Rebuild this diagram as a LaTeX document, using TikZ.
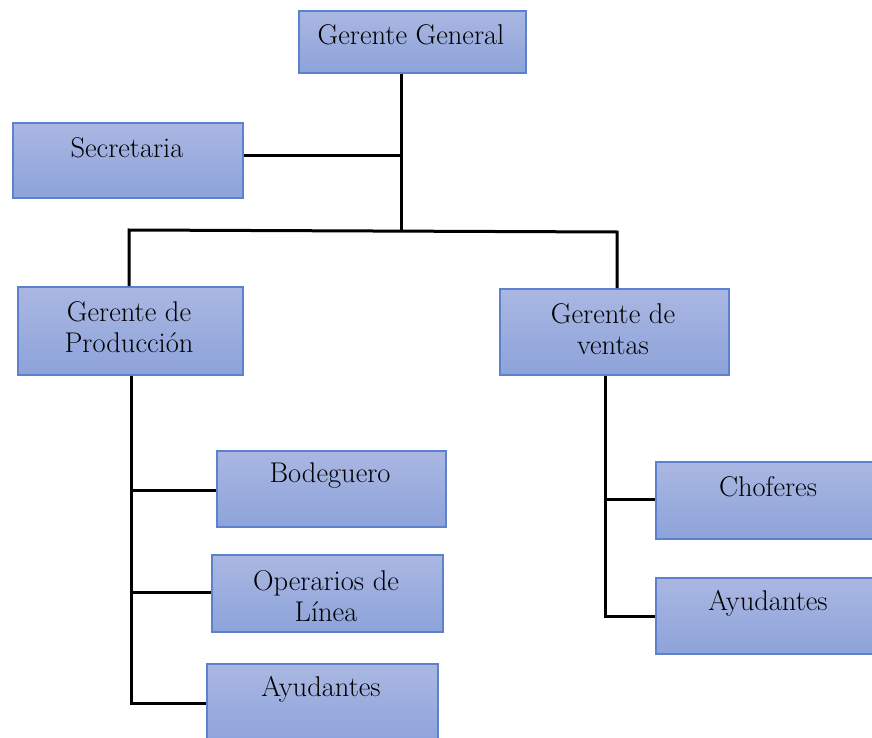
\documentclass[tikz,border=0pt]{standalone}
\definecolor{boxline}{RGB}{92,130,206}
\definecolor{boxtop}{RGB}{170,183,226}
\definecolor{boxbot}{RGB}{141,163,218}
\tikzset{
  box/.style={draw=boxline, line width=1.6pt, top color=boxtop, bottom color=boxbot, rectangle, inner sep=0pt},
  txt/.style={font=\rmfamily\fontsize{28.5}{31}\selectfont, align=center, inner sep=0pt, text=black},
  conn/.style={draw=black, line width=3pt},
}
\newcommand{\orgbox}[5]{% name, x1, y1, x2, y2
  \node[box, minimum width={#4-#2}, minimum height={#5-#3}, anchor=north west] (#1) at (#2,#3) {};}
\begin{document}
\begin{tikzpicture}[x=1pt,y=-1pt]
\useasboundingbox (0,0) rectangle (872,738);
% boxes
\orgbox{gg}{298}{10}{525}{72}
\orgbox{sec}{12}{122}{242}{197}
\orgbox{prod}{17}{286}{242}{374}
\orgbox{ven}{499}{288}{728}{374}
\orgbox{bod}{216}{450}{445}{526}
\orgbox{ope}{211}{554}{442}{631}
\orgbox{ayu1}{206}{663}{437}{745}
\orgbox{cho}{655}{461}{885}{538}
\orgbox{ayu2}{655}{577}{885}{653}
% texts
\node[txt] (tgg) at (411,35) {Gerente General};
\node[txt] (tsec) at (127,148) {Secretaria};
\node[txt] (tprod) at (129,327) {Gerente de\\Producción};
\node[txt] (tven) at (613,329) {Gerente de\\ventas};
\node[txt] (tbod) at (330,476) {Bodeguero};
\node[txt] (tope) at (326,596) {Operarios de\\Línea};
\node[txt] (tayu1) at (321,689) {Ayudantes};
\node[txt] (tcho) at (768,487) {Choferes};
\node[txt] (tayu2) at (768,603) {Ayudantes};
% junctions
\coordinate (j) at (401,231);
\coordinate (jl) at (129,230);
\coordinate (jr) at (617,232);
\coordinate (pl) at (131,703);
\coordinate (vl) at (605,616);
% connectors
\draw[conn] (j |- gg.south) -- (j);
\draw[conn] (sec.east |- 0,156) -- (401,156);
\draw[conn, line join=miter] (jl |- prod.north) -- (jl) -- (jr) -- (jr |- ven.north);
\draw[conn, line join=miter] (pl |- prod.south) -- (pl) -- (ayu1.west |- pl);
\draw[conn] (131,490) -- (bod.west |- 0,490);
\draw[conn] (131,592) -- (ope.west |- 0,592);
\draw[conn, line join=miter] (vl |- ven.south) -- (vl) -- (ayu2.west |- vl);
\draw[conn] (605,499) -- (cho.west |- 0,499);
\end{tikzpicture}
\end{document}
